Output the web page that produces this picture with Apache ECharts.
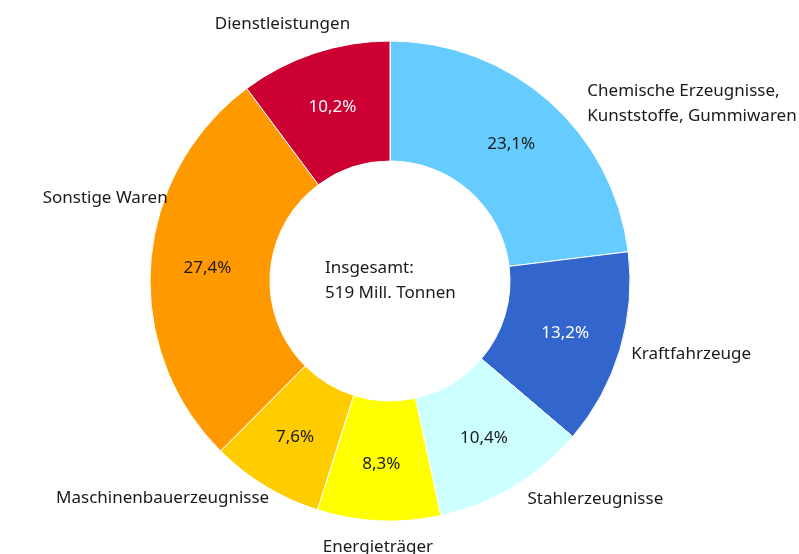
<!DOCTYPE html>
<html>
<head>
<meta charset="utf-8">
<script src="https://cdn.jsdelivr.net/npm/echarts@6/dist/echarts.min.js"></script>
<style>
  html, body { margin: 0; padding: 0; background: #fff; }
  #chart { width: 799px; height: 554px; }
</style>
</head>
<body>
<div id="chart"></div>
<script>
// Anteile der Güterabteilungen (im Uhrzeigersinn ab 12 Uhr)
const categories = [
  'Chemische Erzeugnisse,\nKunststoffe, Gummiwaren',
  'Kraftfahrzeuge',
  'Stahlerzeugnisse',
  'Energieträger',
  'Maschinenbauerzeugnisse',
  'Sonstige Waren',
  'Dienstleistungen'
]
const shares = [23.1, 13.2, 10.4, 8.3, 7.6, 27.4, 10.2]
const colors = ['#66CCFF', '#3366CC', '#CCFFFF', '#FFFF00', '#FFCC00', '#FF9900', '#CC0033']
const whiteText = [false, true, false, false, false, false, true]
const centerLines = ['Insgesamt:', '519 Mill. Tonnen']

const font = '"Noto Sans", "Open Sans", sans-serif'
const chart = echarts.init(document.getElementById('chart'))

const fmt = v => v.toFixed(1).replace('.', ',') + '%'

// Feinkorrektur der Außenbeschriftungen (dx, dy)
const labelShift = [[24, 13], [-7, 0], [2, 0], [60, 12], [16, 0], [36, -65], [45, -16]]

const option = {
  animation: false,
  graphic: [{
    type: 'text',
    left: 325,
    top: 256,
    style: {
      text: centerLines.join('\n'),
      font: '17px ' + font,
      lineHeight: 25,
      fill: '#1a1a1a'
    }
  }],
  series: [
    {
      // Prozentwerte im Ring
      type: 'pie',
      center: [390, 281],
      radius: [120, 240],
      startAngle: 90,
      clockwise: true,
      silent: true,
      itemStyle: {borderColor: '#fff', borderWidth: 1},
      label: {
        position: 'inside',
        formatter: p => fmt(p.value),
        fontFamily: font,
        fontSize: 17
      },
      labelLine: {show: false},
      data: categories.map((c, i) => ({
        name: c,
        value: shares[i],
        itemStyle: {color: colors[i]},
        label: {color: whiteText[i] ? '#fff' : '#1a1a1a'}
      }))
    },
    {
      // Beschriftung außen
      type: 'pie',
      center: [390, 281],
      radius: [120, 240],
      startAngle: 90,
      clockwise: true,
      silent: true,
      itemStyle: {color: 'transparent'},
      label: {
        position: 'outside',
        formatter: '{b}',
        fontFamily: font,
        fontSize: 17,
        lineHeight: 25,
        color: '#1a1a1a',
        overflow: 'none',
        edgeDistance: 0
      },
      labelLine: {show: false, length: 14, length2: 0},
      labelLayout: p => ({dx: labelShift[p.dataIndex][0], dy: labelShift[p.dataIndex][1]}),
      data: categories.map((c, i) => ({name: c, value: shares[i]}))
    }
  ]
}
chart.setOption(option)
</script>
</body>
</html>
